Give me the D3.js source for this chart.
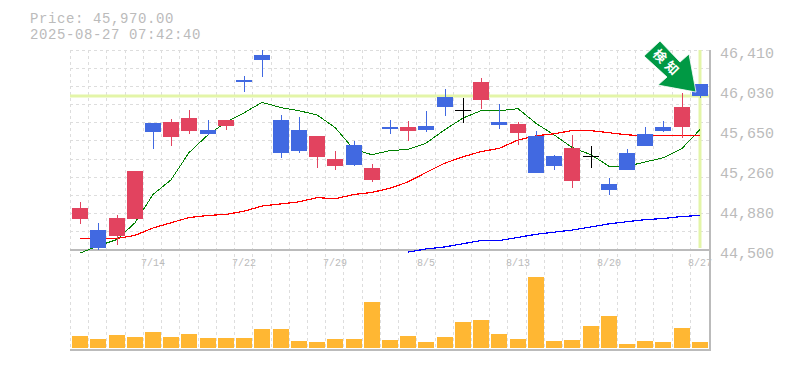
<!DOCTYPE html>
<html>
<head>
<meta charset="utf-8">
<style>
  html, body { margin: 0; padding: 0; background: #fff; overflow: hidden; }
</style>
<script src="https://cdn.jsdelivr.net/npm/d3@7"></script>
</head>
<body>
<div id="chart"></div>
<script>
var dates = ["7/8","7/9","7/10","7/11","7/14","7/15","7/16","7/17","7/18","7/22",
    "7/23","7/24","7/25","7/28","7/29","7/30","7/31","8/1","8/4","8/5",
    "8/6","8/7","8/8","8/12","8/13","8/14","8/15","8/18","8/19","8/20",
    "8/21","8/22","8/25","8/26","8/27"]
var dateLabels = ["7/14","7/22","7/29","8/5","8/13","8/20","8/27"]
var priceTicks = [46410, 46030, 45650, 45260, 44880, 44500]

var opens = [44800,44690,44630,44800,45710,45580,45640,45650,45680,46120,
    46360,45740,45650,45390,45300,45500,45170,45670,45640,45680,
    45960,45830,45930,45720,45620,45590,45400,45160,45390,45130,
    45430,45610,45670,45670,46090]
var highs = [44960,44760,44830,45250,45710,45750,45840,45740,45740,46160,
    46410,45790,45770,45590,45450,45540,45320,45740,45730,45830,
    46040,45950,46140,45890,45720,45640,45410,45600,45490,45190,
    45460,45670,45730,46000,46090]
var lows = [44750,44500,44550,44800,45460,45490,45610,45600,45650,46010,
    46150,45380,45430,45280,45260,45300,45150,45610,45540,45630,
    45780,45710,45850,45660,45500,45240,45260,45090,45280,45030,
    45260,45490,45630,45570,45950]
var closes = [44900,44520,44810,45250,45630,45720,45760,45610,45740,46100,
    46310,45430,45450,45590,45370,45310,45280,45660,45670,45650,
    45870,45830,46100,45690,45700,45240,45300,45470,45390,45070,
    45260,45490,45640,45870,45970]

var maShort = [44470,44540,44600,44760,45030,45170,45430,45600,45720,45810,
    45910,45860,45830,45790,45670,45460,45410,45450,45460,45520,
    45650,45760,45830,45830,45850,45710,45600,45480,45410,45300,
    45300,45340,45380,45470,45650]
var maMid = [44610,44610,44610,44640,44710,44760,44810,44830,44840,44870,
    44920,44940,44960,45000,44990,45030,45050,45090,45150,45240,
    45330,45390,45440,45470,45550,45590,45610,45640,45640,45620,
    45600,45590,45590,45590,45590]
var maLong = [null,null,null,null,null,null,null,null,null,null,
    null,null,null,null,null,null,null,null,44480,44510,
    44530,44560,44590,44590,44620,44650,44670,44690,44720,44750,
    44770,44790,44800,44820,44830]

var volumes = [12,9,13,11,16,11,14,10,10,10,19,19,7,6,9,9,46,8,
    12,6,11,26,28,14,9,71,7,8,22,32,4,7,6,20,6]

var currentPrice = 45970

// colours
var cUp = "#e2435f", cDown = "#4169e1", cDoji = "#000000"
var cGrid = "#dddddd", cAxis = "#bbbbbb", cText = "#bbbbbb"
var cHighlight = "#e3f5a8", cVolume = "#ffb733", cArrow = "#009944"
var monoFont = "'Liberation Mono', monospace"

var svg = d3.select("#chart")
    .append("svg")
    .attr("width", 785)
    .attr("height", 370)
    .style("display", "block")

var x = d3.scaleBand().domain(dates).range([71, 709])
var y = d3.scaleLinear().domain([44500, 46410]).range([250, 50])
var yVol = d3.scaleLinear().domain([0, 100]).range([348, 248])

function cx(d) { return Math.round(x(d) + x.bandwidth() / 2) }

// grid
var grid = svg.append("g")
    .attr("stroke", cGrid)
    .attr("stroke-dasharray", "3,3")
    .attr("shape-rendering", "crispEdges")

d3.range(0, 12).forEach(function (i) {
    var gy = 50 + i * 200 / 11
    grid.append("line").attr("x1", 70).attr("x2", 710).attr("y1", gy).attr("y2", gy)
})
dates.forEach(function (d) {
    grid.append("line").attr("x1", x(d) - 0.5).attr("x2", x(d) - 0.5).attr("y1", 50).attr("y2", 350)
})

// current price cross
svg.append("line")
    .attr("x1", 70).attr("x2", 710)
    .attr("y1", y(currentPrice)).attr("y2", y(currentPrice))
    .attr("stroke", cHighlight).attr("stroke-width", 3)
svg.append("line")
    .attr("x1", cx("8/27")).attr("x2", cx("8/27"))
    .attr("y1", 50).attr("y2", 248)
    .attr("stroke", cHighlight).attr("stroke-width", 3)

// axis lines
svg.append("path")
    .attr("d", "M70,250H710M70,350H710M710,50V351")
    .attr("fill", "none")
    .attr("stroke", cAxis)
    .attr("stroke-width", 1.5)
    .attr("shape-rendering", "crispEdges")

// moving averages
var line = d3.line()
    .defined(function (d) { return d[1] !== null })
    .x(function (d) { return cx(d[0]) })
    .y(function (d) { return y(d[1]) })

function drawLine(values, color, w) {
    svg.append("path")
        .datum(dates.map(function (d, i) { return [d, values[i]] }))
        .attr("d", line)
        .attr("fill", "none")
        .attr("stroke", color)
        .attr("stroke-width", w)
        .attr("shape-rendering", "crispEdges")
}
drawLine(maShort, "#008000", 1)
drawLine(maMid, "#ff0000", 1.2)
drawLine(maLong, "#0000ff", 1.2)

// candles
var candles = svg.append("g").attr("shape-rendering", "crispEdges")
dates.forEach(function (d, i) {
    var o = opens[i], c = closes[i]
    var color = c > o ? cUp : (c < o ? cDown : cDoji)
    candles.append("line")
        .attr("x1", cx(d)).attr("x2", cx(d))
        .attr("y1", y(highs[i])).attr("y2", y(lows[i]))
        .attr("stroke", color)
    if (c === o) {
        candles.append("line")
            .attr("x1", cx(d) - 8).attr("x2", cx(d) + 8)
            .attr("y1", y(o)).attr("y2", y(o))
            .attr("stroke", color)
    } else {
        candles.append("rect")
            .attr("x", cx(d) - 8)
            .attr("width", 16)
            .attr("y", y(Math.max(o, c)))
            .attr("height", Math.abs(y(o) - y(c)))
            .attr("fill", color)
    }
})

// volume
svg.append("g")
    .attr("shape-rendering", "crispEdges")
    .selectAll("rect")
    .data(volumes)
    .join("rect")
    .attr("x", function (d, i) { return cx(dates[i]) - 8 })
    .attr("width", 16)
    .attr("y", function (d) { return yVol(d) })
    .attr("height", function (d) { return yVol(0) - yVol(d) })
    .attr("fill", cVolume)

// labels
svg.selectAll(".price")
    .data(priceTicks)
    .join("text")
    .attr("class", "price")
    .attr("x", 720)
    .attr("y", function (d) { return y(d) + 8 })
    .attr("font-family", monoFont)
    .attr("font-size", 15)
    .attr("fill", cText)
    .text(d3.format(","))

svg.selectAll(".date")
    .data(dateLabels)
    .join("text")
    .attr("class", "date")
    .attr("x", function (d) { return cx(d) })
    .attr("y", 266)
    .attr("text-anchor", "middle")
    .attr("font-family", monoFont)
    .attr("font-size", 10)
    .attr("fill", cText)
    .text(function (d) { return d })

svg.append("text")
    .attr("x", 30).attr("y", 22.5)
    .attr("font-family", monoFont).attr("font-size", 14).attr("letter-spacing", 0.6).attr("fill", cText)
    .text("Price: " + d3.format(",.2f")(currentPrice))
svg.append("text")
    .attr("x", 30).attr("y", 38.5)
    .attr("font-family", monoFont).attr("font-size", 14).attr("letter-spacing", 0.6).attr("fill", cText)
    .text("2025-08-27 07:42:40")

// arrow pointing at the last candle, offsets from its tip
var tip = svg.append("g")
    .attr("transform", "translate(" + (cx("8/27") - 4) + "," + (y(currentPrice) - 4) + ")")
tip.append("path")
    .attr("d", "M-36,-51L-16,-30L-7,-38L0,0L-38,-7L-29,-15L-52,-36Z")
    .attr("fill", cArrow)
    .attr("stroke", "#ffffff")
    .attr("stroke-width", 0.8)
;[["検", -36, -36], ["知", -24, -24]].forEach(function (t) {
    tip.append("text")
        .attr("transform", "translate(" + t[1] + "," + t[2] + ") rotate(45)")
        .attr("text-anchor", "middle")
        .attr("dy", "0.36em")
        .attr("font-family", "'Noto Sans CJK JP', sans-serif")
        .attr("font-weight", 700)
        .attr("font-size", 13)
        .attr("fill", "#ffffff")
        .text(t[0])
})
</script>
</body>
</html>
